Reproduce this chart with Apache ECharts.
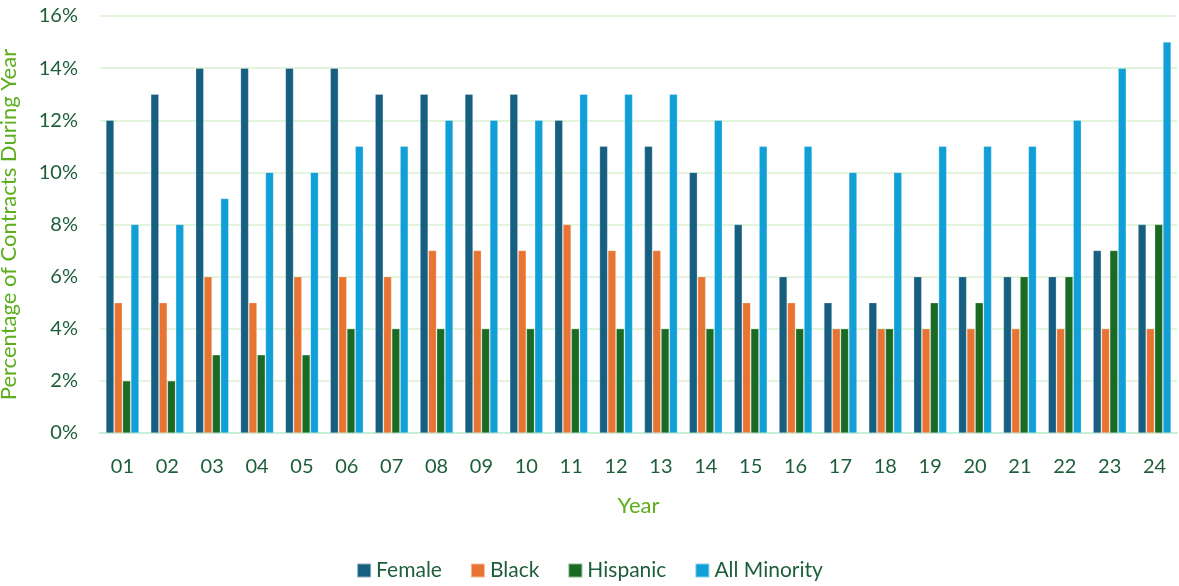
<!DOCTYPE html>
<html>
<head>
<meta charset="utf-8">
<script src="https://cdn.jsdelivr.net/npm/echarts@6/dist/echarts.min.js"></script>
<style>
  html, body { margin: 0; padding: 0; background: #fff; }
  #chart { width: 1179px; height: 586px; }
</style>
</head>
<body>
<div id="chart"></div>
<script>
const years = ['01','02','03','04','05','06','07','08','09','10','11','12',
  '13','14','15','16','17','18','19','20','21','22','23','24'];
const female = [12,13,14,14,14,14,13,13,13,13,12,11,11,10,8,6,5,5,6,6,6,6,7,8];
const black = [5,5,6,5,6,6,6,7,7,7,8,7,7,6,5,5,4,4,4,4,4,4,4,4];
const hispanic = [2,2,3,3,3,4,4,4,4,4,4,4,4,4,4,4,4,4,5,5,6,6,7,8];
const allMinority = [8,8,9,10,10,11,11,12,12,12,13,13,13,12,11,11,10,10,11,11,11,12,14,15];
const yTicks = [0, 2, 4, 6, 8, 10, 12, 14, 16];

const font = 'Lato, "Open Sans", sans-serif';
const darkGreen = '#1d5e3a';
const lightGreen = '#5dae1f';

const chart = echarts.init(document.getElementById('chart'));

function bar(name, data, color) {
  return {
    name: name,
    type: 'bar',
    data: data,
    barWidth: 8,
    barGap: '4%',
    itemStyle: { color: color, borderColor: 'rgba(255,255,255,0.5)', borderWidth: 0.5 }
  };
}

const option = {
  animation: false,
  textStyle: { fontFamily: font },
  grid: { left: 100, right: 2, top: 16, bottom: 153, outerBoundsMode: 'none' },
  legend: {
    bottom: 0,
    left: 'center',
    itemWidth: 14,
    itemHeight: 14,
    itemGap: 28,
    icon: 'rect',
    textStyle: { color: darkGreen, fontSize: 21, fontFamily: font },
    data: ['Female', 'Black', 'Hispanic', 'All Minority']
  },
  xAxis: {
    type: 'category',
    data: years,
    name: 'Year',
    nameLocation: 'middle',
    nameGap: 62,
    nameTextStyle: { color: lightGreen, fontSize: 22, fontFamily: font },
    axisLine: { lineStyle: { color: '#c6efd6', width: 2 } },
    axisTick: { show: false },
    axisLabel: { color: darkGreen, fontSize: 20, margin: 24, fontFamily: font }
  },
  yAxis: {
    type: 'value',
    min: yTicks[0],
    max: yTicks[yTicks.length - 1],
    interval: 2,
    name: 'Percentage of Contracts During Year',
    nameLocation: 'middle',
    nameGap: 80,
    nameTextStyle: { color: lightGreen, fontSize: 22, fontFamily: font },
    axisLine: { show: false },
    axisTick: { show: false },
    axisLabel: { color: darkGreen, fontSize: 20, margin: 22, formatter: '{value}%', fontFamily: font },
    splitLine: { lineStyle: { color: '#d9f2d0', width: 1.5 } }
  },
  series: [
    bar('Female', female, '#175f80'),
    bar('Black', black, '#e87433'),
    bar('Hispanic', hispanic, '#1b6a24'),
    bar('All Minority', allMinority, '#109fd7')
  ]
};
chart.setOption(option);
</script>
</body>
</html>
